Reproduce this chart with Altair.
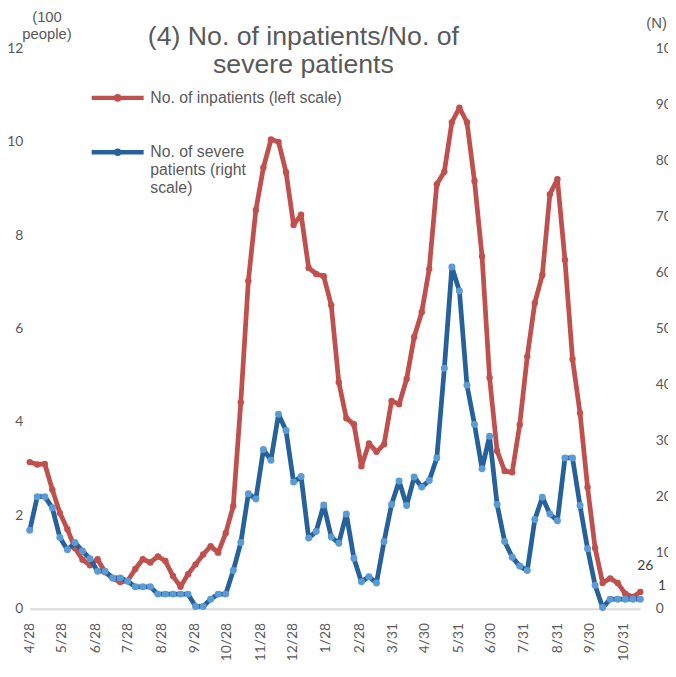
import altair as alt
import pandas as pd

# ---- data ----
start_date = "2020-04-28"          # first weekly observation
inpatients = [  # hundreds of people, left scale
    3.14, 3.09, 3.10, 2.55, 2.05, 1.70, 1.30, 1.05, 0.93, 1.06,
    0.78, 0.65, 0.57, 0.60, 0.85, 1.06, 0.99, 1.12, 1.02, 0.70,
    0.47, 0.74, 0.95, 1.16, 1.34, 1.20, 1.62, 2.20, 4.42, 7.02,
    8.54, 9.45, 10.05, 10.00, 9.35, 8.22, 8.44, 7.30, 7.17, 7.12,
    6.50, 4.85, 4.08, 3.95, 3.05, 3.54, 3.36, 3.52, 4.45, 4.38,
    4.92, 5.82, 6.35, 7.28, 9.09, 9.36, 10.42, 10.73, 10.42, 9.16,
    7.55, 4.95, 3.38, 2.95, 2.92, 3.94, 5.40, 6.55, 7.15, 8.88,
    9.20, 7.47, 5.35, 4.19, 2.60, 1.30, 0.55, 0.65, 0.55, 0.32,
    0.25, 0.36,
]
severe = [  # number of severe patients, right scale
    14.0, 20.0, 20.0, 18.0, 12.7, 10.5, 11.8, 10.3, 8.9, 6.7,
    6.7, 5.5, 5.5, 4.9, 3.9, 3.9, 3.9, 2.6, 2.6, 2.6,
    2.6, 2.6, 0.4, 0.4, 1.7, 2.6, 2.6, 6.8, 11.8, 20.5,
    19.6, 28.4, 26.5, 34.7, 31.8, 22.6, 23.6, 12.6, 13.8, 18.5,
    12.8, 11.7, 16.9, 9.0, 4.8, 5.7, 4.6, 12.0, 18.6, 22.8,
    18.4, 23.5, 21.7, 22.9, 26.9, 42.9, 61.0, 56.7, 39.9, 32.9,
    25.0, 30.8, 18.6, 12.0, 9.2, 7.6, 6.8, 15.9, 19.9, 16.9,
    15.7, 26.9, 26.9, 18.4, 10.7, 4.2, 0.2, 1.7, 1.7, 1.7,
    1.7, 1.7,
]
tick_dates = [
    (2020, 4, 28), (2020, 5, 28), (2020, 6, 28), (2020, 7, 28), (2020, 8, 28),
    (2020, 9, 28), (2020, 10, 28), (2020, 11, 28), (2020, 12, 28), (2021, 1, 28),
    (2021, 2, 28), (2021, 3, 31), (2021, 4, 30), (2021, 5, 31), (2021, 6, 30),
    (2021, 7, 31), (2021, 8, 31), (2021, 9, 30), (2021, 10, 31),
]
left_ticks = [0, 2, 4, 6, 8, 10, 12]
right_ticks = [0, 10, 20, 30, 40, 50, 60, 70, 80, 90, 100]
series_names = ["No. of inpatients (left scale)", "No. of severe patients (right scale)"]
end_labels = ["26", "1"]
title_lines = ["(4) No. of inpatients/No. of", "severe patients"]

RED = "#c0504d"
BLUE_LINE = "#26619c"
BLUE_DOT = "#5b9bd5"
GRAY = "#595959"
LABEL_FONT = "Lato"
TEXT_FONT = "Liberation Sans"

dates = pd.date_range(start_date, periods=len(inpatients), freq="7D")
df = pd.DataFrame({"date": dates, "inpatients": inpatients, "severe": severe})
df["s1"] = series_names[0]
df["s2"] = series_names[1]
last = df.tail(1)

x_enc = alt.X(
    "date:T",
    scale=alt.Scale(nice=False, padding=0),
    axis=alt.Axis(
        title=None,
        values=[alt.DateTime(year=y, month=m, date=d) for (y, m, d) in tick_dates],
        format="%-m/%-d",
        labelAngle=-90,
        labelPadding=14,
        ticks=False,
        grid=False,
        domainColor="#d9d9d9",
        domainWidth=2,
        labelColor=GRAY,
        labelFont=LABEL_FONT,
        labelFontSize=14,
    ),
)

color_scale = alt.Scale(domain=series_names, range=[RED, BLUE_LINE])
legend = alt.Legend(
    title=None,
    orient="none",
    legendX=60,
    legendY=21,
    padding=0,
    rowPadding=15,
    symbolType="M-1,0L1,0M0.06,0A0.06,0.06,0,1,1,-0.06,0A0.06,0.06,0,1,1,0.06,0",
    symbolSize=2770,
    symbolStrokeWidth=4.5,
    labelOffset=4,
    labelLimit=400,
    labelFont=TEXT_FONT,
    labelFontSize=16,
    labelColor=GRAY,
    labelBaseline="middle",
    labelExpr=(
        "datum.label == '" + series_names[1] + "' ? "
        "['No. of severe', 'patients (right', 'scale)'] : datum.label"
    ),
)

left_y = alt.Y(
    "inpatients:Q",
    scale=alt.Scale(domain=[0, 12], nice=False),
    axis=alt.Axis(
        values=left_ticks,
        title=["(100", "people)"],
        titleAngle=0,
        titleX=17,
        titleY=-27,
        titleAlign="center",
        titleBaseline="alphabetic",
        titleFont=TEXT_FONT,
        titleFontSize=15,
        titleFontWeight="normal",
        titleColor=GRAY,
        titleLineHeight=17,
        domain=False,
        ticks=False,
        grid=False,
        labelPadding=7,
        labelColor=GRAY,
        labelFont=LABEL_FONT,
        labelFontSize=14,
    ),
)
right_y = alt.Y(
    "severe:Q",
    scale=alt.Scale(domain=[0, 100], nice=False),
    axis=alt.Axis(
        orient="right",
        values=right_ticks,
        title="(N)",
        titleAngle=0,
        titleX=16,
        titleY=-21,
        titleAlign="center",
        titleBaseline="alphabetic",
        titleFont=TEXT_FONT,
        titleFontSize=15,
        titleFontWeight="normal",
        titleColor=GRAY,
        domain=False,
        ticks=False,
        grid=False,
        labelPadding=15,
        labelColor=GRAY,
        labelFont=LABEL_FONT,
        labelFontSize=14,
    ),
)

base = alt.Chart(df)

red_line = base.mark_line(strokeWidth=4.8, strokeCap="round", strokeJoin="round").encode(
    x=x_enc, y=left_y, color=alt.Color("s1:N", scale=color_scale, legend=legend)
)
red_pts = base.mark_circle(size=42, opacity=1, color=RED).encode(x=x_enc, y="inpatients:Q")
red_lbl = alt.Chart(last).mark_text(
    text=end_labels[0], font=LABEL_FONT, fontSize=14, color="#404040", dx=5, dy=-26
).encode(x=x_enc, y="inpatients:Q")

blue_line = base.mark_line(strokeWidth=4.8, strokeCap="round", strokeJoin="round").encode(
    x=x_enc, y=right_y, color=alt.Color("s2:N", scale=color_scale, legend=legend)
)
blue_pts = base.mark_circle(size=50, opacity=1, color=BLUE_DOT).encode(x=x_enc, y="severe:Q")
blue_lbl = alt.Chart(last).mark_text(
    text=end_labels[1], font=LABEL_FONT, fontSize=14, color="#404040", dx=22, dy=-13
).encode(x=x_enc, y="severe:Q")

title_txt = alt.Chart(pd.DataFrame({"k": [0]})).mark_text(
    text=title_lines,
    font=TEXT_FONT,
    fontSize=27,
    lineHeight=29,
    color=GRAY,
    align="center",
    baseline="alphabetic",
).encode(x=alt.value(277), y=alt.value(-4))

chart = (
    alt.layer(
        alt.layer(red_line, red_pts, red_lbl),
        alt.layer(blue_line, blue_pts, blue_lbl),
        title_txt,
    )
    .resolve_scale(y="independent")
    .properties(
        width=618,
        height=567,
        autosize=alt.AutoSizeParams(type="none"),
        padding={"left": 22, "top": 37, "right": 28, "bottom": 51},
        background="white",
    )
    .configure_view(stroke=None)
)

chart.save("out.html", embed_options={"renderer": "svg", "actions": False})
